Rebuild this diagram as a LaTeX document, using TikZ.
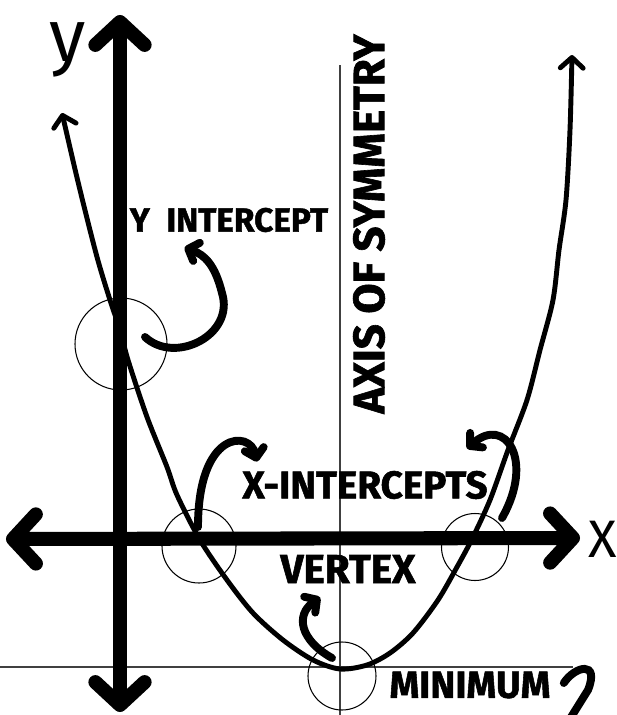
\documentclass[tikz,border=0pt]{standalone}
\usepackage{fontspec}
\setmainfont{Fira Sans}[BoldFeatures={FakeBold=1.4}]
\usetikzlibrary{arrows.meta,calc}

\begin{document}
\begin{tikzpicture}[x=0.2mm,y=-0.2mm,
  bigbarb/.tip={Straight Barb[round,length=13pt,width=28pt]},
  midbarb/.tip={Straight Barb[round,length=6pt,width=13pt]},
  smallbarb/.tip={Straight Barb[round,length=5pt,width=11pt]},
  thickax/.style={line width=8pt,bigbarb-bigbarb},
  curve/.style={line width=2.8pt,line cap=round,midbarb-midbarb},
  guide/.style={line width=0.8pt,black!75},
  ring/.style={draw,circle,line width=0.6pt,inner sep=0pt},
  lbl/.style={font=\bfseries\fontsize{#1}{#1}\selectfont,inner sep=0pt},
  callout/.style={line width=4.5pt,line cap=round,-smallbarb}]
\fill[white] (0,0) rectangle (617,715);
\useasboundingbox (0,0) rectangle (617,715);
\draw[guide] (340,65) -- (340,720);
\draw[guide] (-5,667) -- (573,667);
\node[ring,minimum size=18.4mm] (cy) at (121,344) {};
\node[ring,minimum size=14.8mm] (cxl) at (199,546) {};
\node[ring,minimum size=13.4mm] (cxr) at (475,547) {};
\node[ring,minimum size=13.6mm] (cv) at (342,676) {};
\draw[thickax] (6,539) -- (580,538);
\draw[thickax] (120,712) -- (120,15);
\draw[curve] plot[smooth] coordinates {(62,113) (80,190) (97,257) (110,300) (120,330) (128,360) (147,417) (167,467) (177,495) (200,540) (227,580) (253,613) (283,640) (313,660) (340,669) (367,665) (390,653) (413,633) (438,600) (457,567) (472,539) (490,500) (508,450) (527,400) (540,350) (553,300) (559,250) (566,200) (570,130) (572,55)};
\node[lbl=19] (ylab) at (229,220) {Y\enspace INTERCEPT};
\node[lbl=22] (xlab) at (365,485) {X-INTERCEPTS};
\node[lbl=23] (vlab) at (348,569) {VERTEX};
\node[lbl=21.5] (mlab) at (470,685) {MINIMUM};
\node[lbl=25,rotate=90] (alab) at (369,224) {AXIS OF SYMMETRY};
\node[font=\fontsize{30}{30}\selectfont] (xname) at (603,539) {X};
\node[font=\fontsize{42}{42}\selectfont] (yname) at (68,50) {y};
\coordinate (yt) at (145,337);
\coordinate (xlt) at (198,527);
\coordinate (xrt) at (502,518);
\coordinate (vt) at (332,658);
\coordinate (mend) at (568,722);
\draw[callout] (yt) .. controls (175,365) and (235,335) .. (222,293) .. controls (215,265) and (205,255) .. ($(ylab.south west)+(55,15)$);
\draw[callout] (xlt) .. controls (198,430) and (250,430) .. ($(xlab.north west)+(15,-9)$);
\draw[callout] (xrt) .. controls (535,460) and (505,415) .. ($(xlab.north east)+(-21,-22)$);
\draw[callout] (vt) .. controls (300,640) and (295,615) .. ($(vlab.south west)+(40,14)$);
\draw[callout,-] ($(mlab.east)+(13,-2)$) .. controls (575,666) and (600,660) .. (588,690) -- (mend);
\end{tikzpicture}
\end{document}
